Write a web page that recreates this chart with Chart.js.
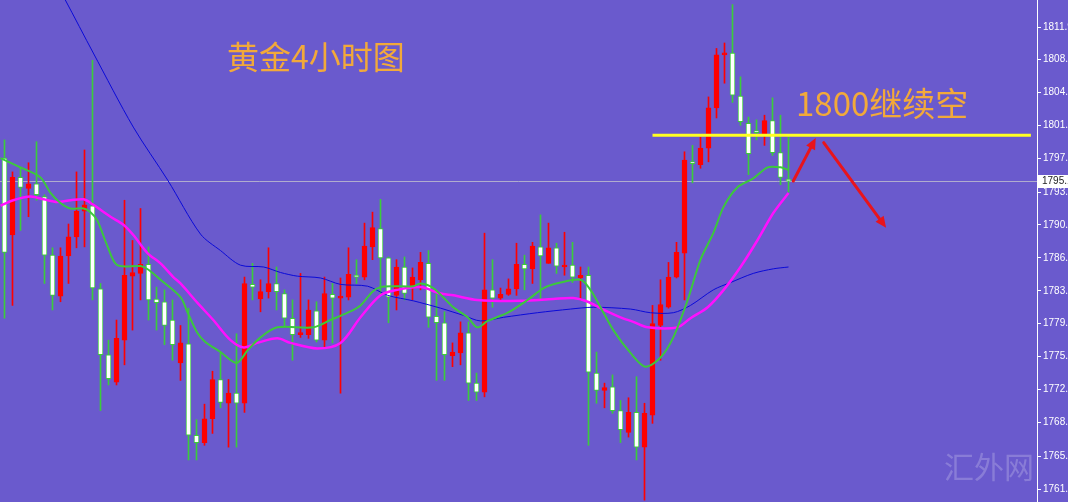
<!DOCTYPE html>
<html>
<head>
<meta charset="utf-8">
<script src="https://cdn.jsdelivr.net/npm/chart.js@4.4.1/dist/chart.umd.min.js"></script>
<style>
  html, body { margin: 0; padding: 0; background: #6A5ACD; overflow: hidden; }
  canvas { display: block; }
</style>
</head>
<body>
<canvas id="c" width="1068" height="502"></canvas>
<script>
// gold 4h candles (red = up, white = down)
const opens = [1797.6,1789.2,1795.5,1794.3,1794.8,1793.4,1787.0,1782.5,1786.9,1789.0,
  1791.8,1792.4,1783.3,1776.1,1773.1,1777.7,1784.7,1785.0,1786.0,1782.2,
  1781.9,1779.9,1775.2,1777.3,1767.3,1766.5,1769.1,1773.4,1770.8,1771.9,
  1770.8,1783.8,1782.2,1783.0,1783.9,1782.8,1780.1,1778.3,1778.3,1780.9,
  1777.7,1782.7,1782.3,1782.4,1784.8,1784.6,1787.9,1789.9,1786.7,1782.6,
  1785.7,1783.4,1784.3,1786.1,1780.3,1779.6,1776.0,1776.3,1778.5,1773.0,
  1772.0,1783.2,1782.3,1782.7,1783.3,1786.0,1785.5,1787.9,1786.1,1787.8,
  1785.7,1785.9,1784.5,1784.8,1774.1,1772.2,1772.6,1770.0,1767.6,1769.8,
  1766.0,1769.5,1779.3,1781.3,1784.6,1787.2,1797.2,1796.9,1798.7,1803.1,
  1808.9,1809.1,1804.4,1801.4,1800.6,1800.1,1801.7,1798.2,1795.3];
const highs = [1799.6,1796.1,1796.5,1797.1,1799.4,1793.6,1787.8,1787.8,1790.4,1796.1,
  1798.5,1808.3,1783.9,1777.7,1779.9,1793.0,1788.6,1792.1,1787.9,1783.5,
  1783.2,1782.1,1779.3,1781.2,1769.0,1770.7,1774.3,1776.3,1773.4,1778.4,
  1784.6,1786.1,1784.3,1787.8,1785.7,1783.2,1782.1,1785.0,1782.1,1781.9,
  1784.6,1783.9,1784.5,1787.8,1786.5,1790.5,1791.7,1793.1,1786.8,1786.5,
  1786.8,1785.6,1787.3,1787.5,1782.8,1780.8,1777.4,1779.7,1779.7,1774.1,
  1789.4,1786.5,1783.4,1784.4,1788.3,1787.0,1788.4,1791.4,1790.5,1788.3,
  1789.5,1788.4,1785.7,1785.7,1776.4,1773.0,1773.9,1771.1,1771.4,1773.7,
  1770.8,1781.5,1784.3,1786.2,1788.4,1798.3,1799.0,1799.9,1804.3,1809.6,
  1810.2,1814.4,1806.5,1802.1,1801.8,1802.3,1804.2,1802.3,1799.9];
const lows = [1780.1,1781.5,1789.7,1791.2,1793.0,1783.9,1781.0,1781.9,1783.9,1787.8,
  1787.9,1782.1,1770.0,1772.8,1772.8,1775.0,1778.8,1782.1,1779.9,1778.8,
  1777.2,1775.5,1773.3,1764.6,1764.6,1766.2,1767.5,1770.3,1766.0,1766.0,
  1769.8,1782.1,1780.8,1782.3,1781.0,1779.1,1775.5,1778.0,1777.9,1777.5,
  1776.9,1777.4,1771.9,1782.1,1783.9,1784.3,1786.5,1782.6,1779.6,1781.0,
  1782.1,1782.1,1783.2,1779.1,1773.3,1773.3,1774.8,1775.0,1771.1,1771.1,
  1771.5,1781.3,1782.1,1782.6,1782.6,1783.2,1783.9,1782.1,1786.1,1785.0,
  1784.8,1784.0,1782.1,1766.2,1770.8,1770.3,1769.7,1766.5,1767.1,1764.6,
  1760.2,1768.6,1775.5,1781.2,1784.5,1782.1,1794.9,1796.5,1797.2,1802.0,
  1805.8,1803.7,1801.2,1795.8,1799.6,1799.0,1797.9,1794.7,1793.9];
const closes = [1787.3,1795.5,1794.4,1794.8,1793.6,1787.0,1782.6,1786.9,1789.0,1791.8,
  1792.5,1783.4,1776.1,1773.5,1777.9,1784.8,1785.1,1786.0,1782.1,1781.8,
  1779.3,1777.2,1777.4,1767.3,1766.5,1769.1,1773.4,1770.9,1771.9,1770.8,
  1783.9,1783.5,1783.0,1783.9,1783.0,1780.1,1778.3,1778.4,1781.0,1777.7,
  1782.8,1782.3,1782.5,1784.9,1784.6,1788.0,1790.0,1786.7,1782.4,1785.7,
  1782.8,1784.6,1786.2,1780.2,1779.6,1776.1,1776.4,1778.5,1773.0,1772.0,
  1783.2,1782.3,1782.7,1783.3,1786.0,1785.5,1788.0,1786.9,1787.8,1785.8,
  1785.9,1784.6,1784.8,1774.2,1772.2,1772.5,1770.0,1767.9,1769.8,1766.0,
  1769.7,1779.5,1781.6,1784.6,1787.3,1797.4,1797.0,1798.7,1803.1,1808.9,
  1809.1,1804.5,1801.6,1798.1,1800.4,1801.7,1798.2,1795.5,1795.1];

// moving averages, [bar index, price]
const maFast = [[-0.5,1797.6],[2,1796.6],[4.5,1795.5],[5.75,1793.8],[7,1792.7],[8.25,1792.1],[9.9,1792.1],
  [10.75,1791.7],[11.6,1790.8],[12.9,1787.9],[14.1,1785.9],[17,1785.8],[18,1785.4],[19.5,1784.3],[22,1782.4],
  [22.9,1780.7],[24.1,1778.5],[25.1,1777.5],[27,1776.4],[29,1775.2],[30.4,1776.6],[32,1778.0],[34.1,1779.1],
  [38.6,1779.1],[40.75,1779.9],[42.9,1780.7],[44.5,1781.5],[46,1783.0],[47,1783.5],[48.6,1783.6],[51.1,1783.6],
  [52,1783.9],[53.6,1783.4],[56.1,1781.3],[57.9,1780.2],[59.1,1779.1],[60.4,1779.8],[62.9,1780.7],[65.4,1782.1],
  [67.4,1783.4],[69.5,1784.0],[72,1784.3],[73.25,1783.2],[74.5,1781.3],[76.1,1778.8],[78.25,1776.3],[80.1,1774.8],
  [82,1775.8],[83.6,1778.0],[85.4,1782.1],[87,1786.5],[88.6,1789.4],[89.9,1792.3],[91.6,1794.4],[93.6,1795.4],
  [95.4,1796.6],[97,1796.6],[98,1796.3]];
const maMid = [[-0.5,1792.4],[1.1,1793.0],[3.25,1793.4],[4.9,1793.1],[6.6,1792.8],[8.25,1793.0],[9.9,1793.1],
  [11.1,1792.5],[13.25,1791.2],[14.9,1790.3],[16.1,1789.2],[17.9,1787.2],[19.5,1786.1],[21.1,1784.6],[22,1783.9],
  [24.1,1781.8],[26.1,1779.9],[28.25,1777.7],[29.9,1776.9],[31.6,1777.4],[34.1,1777.9],[35.75,1777.4],[39.1,1776.8],
  [42,1777.4],[44.5,1780.2],[47,1782.6],[49.1,1783.2],[52,1783.5],[54.5,1782.8],[56.1,1782.6],[59.1,1782.1],
  [64.5,1782.0],[68.6,1782.2],[71.1,1782.3],[72.9,1781.9],[74.5,1781.2],[77,1780.2],[78.6,1779.7],[80.4,1779.1],
  [84.1,1779.1],[85.75,1780.1],[87.9,1781.3],[89.9,1783.2],[92,1785.7],[94.1,1788.6],[96.1,1791.6],[98,1793.8]];
const maSlow = [[6.75,1816.2],[7.6,1814.9],[11.1,1809.1],[16.1,1801.0],[20.4,1795.2],[24.5,1789.3],[27,1787.5],
  [29.5,1785.9],[32.4,1785.7],[34.5,1785.1],[36.6,1784.7],[39.5,1784.5],[42,1783.8],[45.4,1783.6],[47.9,1782.6],
  [51.1,1782.0],[54.5,1781.2],[57.4,1780.4],[59.5,1779.8],[62.4,1780.2],[66.6,1780.7],[70.75,1781.1],[73.6,1781.3],
  [78.25,1781.1],[80.75,1780.7],[83.6,1780.7],[85.75,1781.5],[88.6,1783.2],[90.75,1784.0],[93.6,1785.0],
  [96.1,1785.5],[98,1785.7]];

// hand-drawn marks
const resistLine = [[81,1800.1],[128.3,1800.1]];
const arrowUp = [[98.6,1795.1],[101.4,1799.8]];
const arrowDown = [[102.4,1799.3],[110.2,1790.0]];

const tickVals = [1761.4,1765.0,1768.7,1772.3,1775.9,1779.5,1783.1,1786.7,1790.3,1793.9,1797.6,1801.2,1804.8,1808.4,1811.9];

const BG = '#6A5ACD';
const RED = '#FF0000';
const GRN = '#3CCB3C';
const idx = opens.map((_, i) => i);
const up = idx.map(i => closes[i] >= opens[i]);
const lastPrice = closes[closes.length - 1];
const pts = arr => arr.map(([x, y]) => ({ x, y }));

function arrow(ctx, sx, sy, tx, ty) {
  const a = Math.atan2(ty - sy, tx - sx);
  const hl = 11, hw = 5;
  const bx = tx - hl * Math.cos(a), by = ty - hl * Math.sin(a);
  ctx.beginPath();
  ctx.moveTo(sx, sy);
  ctx.lineTo(bx, by);
  ctx.stroke();
  ctx.beginPath();
  ctx.moveTo(tx, ty);
  ctx.lineTo(bx + hw * Math.sin(a), by - hw * Math.cos(a));
  ctx.lineTo(bx - hw * Math.sin(a), by + hw * Math.cos(a));
  ctx.closePath();
  ctx.fill();
}

const deco = {
  id: 'deco',
  beforeDraw(chart) {
    const c = chart.ctx;
    c.save();
    c.fillStyle = BG;
    c.fillRect(0, 0, chart.width, chart.height);
    c.restore();
  },
  beforeDatasetsDraw(chart) {
    // current price line
    const c = chart.ctx, a = chart.chartArea;
    const y = Math.round(chart.scales.y.getPixelForValue(lastPrice)) + 0.5;
    c.save();
    c.strokeStyle = 'rgba(200,200,205,0.75)';
    c.lineWidth = 1;
    c.beginPath();
    c.moveTo(a.left, y);
    c.lineTo(a.right, y);
    c.stroke();
    c.restore();
  },
  afterDatasetsDraw(chart) {
    const c = chart.ctx, xs = chart.scales.x, ys = chart.scales.y;
    c.save();
    c.strokeStyle = '#E8141C';
    c.fillStyle = '#E8141C';
    c.lineWidth = 3;
    c.lineCap = 'round';
    [arrowUp, arrowDown].forEach(([s, t]) => {
      arrow(c, xs.getPixelForValue(s[0]), ys.getPixelForValue(s[1]),
        xs.getPixelForValue(t[0]), ys.getPixelForValue(t[1]));
    });
    c.restore();
  },
  afterDraw(chart) {
    const c = chart.ctx, ys = chart.scales.y;
    c.save();
    c.fillStyle = '#F2A93A';
    c.font = '32px "Noto Sans CJK SC", sans-serif';
    c.textBaseline = 'middle';
    c.fillText('黄金4小时图', 227, 57);
    c.font = '33px "Noto Sans CJK SC", sans-serif';
    c.fillText('1800继续空', 796, 103);

    c.fillStyle = 'rgba(210,205,240,0.3)';
    c.font = '30px "Noto Sans CJK SC", serif';
    c.fillText('汇外网', 944, 467);

    // price tag on the axis
    const y = Math.round(ys.getPixelForValue(lastPrice));
    c.fillStyle = '#FFFFFF';
    c.fillRect(1038, y - 6, 30, 13);
    c.fillStyle = '#222';
    c.font = '10px "Liberation Sans", Arial, sans-serif';
    c.textBaseline = 'middle';
    c.fillText(lastPrice.toFixed(1), 1042, y + 0.5);
    c.restore();
  }
};

new Chart(document.getElementById('c'), {
  type: 'bar',
  data: {
    datasets: [
      { type: 'line', label: '1800', data: pts(resistLine), borderColor: '#FFFF22', borderWidth: 3,
        pointRadius: 0, order: 0 },
      { type: 'line', label: 'MA fast', data: pts(maFast), borderColor: '#3CC83C', borderWidth: 2,
        pointRadius: 0, tension: 0.3, order: 1 },
      { type: 'line', label: 'MA mid', data: pts(maMid), borderColor: '#FF10FF', borderWidth: 2.5,
        pointRadius: 0, tension: 0.3, order: 2 },
      { type: 'line', label: 'MA slow', data: pts(maSlow), borderColor: '#0A0AD8', borderWidth: 1,
        pointRadius: 0, tension: 0.3, order: 3 },
      { label: 'body', data: idx.map(i => ({ x: i, y: [opens[i], closes[i]] })),
        backgroundColor: ctx => up[ctx.dataIndex] ? RED : '#FFFFFF',
        borderColor: ctx => up[ctx.dataIndex] ? RED : GRN,
        borderWidth: 1, borderSkipped: false, barThickness: 5, minBarLength: 2,
        grouped: false, order: 4 },
      { label: 'wick', data: idx.map(i => ({ x: i, y: [lows[i], highs[i]] })),
        backgroundColor: ctx => up[ctx.dataIndex] ? RED : GRN,
        borderWidth: 0, barThickness: 1, grouped: false, order: 5 }
    ]
  },
  options: {
    responsive: false,
    animation: false,
    layout: { padding: 0 },
    plugins: { legend: { display: false }, tooltip: { enabled: false } },
    scales: {
      x: { type: 'linear', min: -0.5625, max: 129.0625, offset: false, display: false },
      y: {
        position: 'right',
        min: 1760.0,
        max: 1814.9,
        afterBuildTicks: s => { s.ticks = tickVals.map(v => ({ value: v })); },
        afterFit: s => { s.width = 31; s.paddingTop = 0; s.paddingBottom = 0; },
        grid: { drawOnChartArea: false, color: '#FFFFFF', tickLength: 4, tickWidth: 1 },
        border: { color: '#FFFFFF', width: 1 },
        ticks: {
          color: '#FFFFFF',
          padding: 2,
          font: { family: '"Liberation Sans", Arial, sans-serif', size: 10 },
          callback: v => v.toFixed(1)
        }
      }
    }
  },
  plugins: [deco]
});
</script>
</body>
</html>
